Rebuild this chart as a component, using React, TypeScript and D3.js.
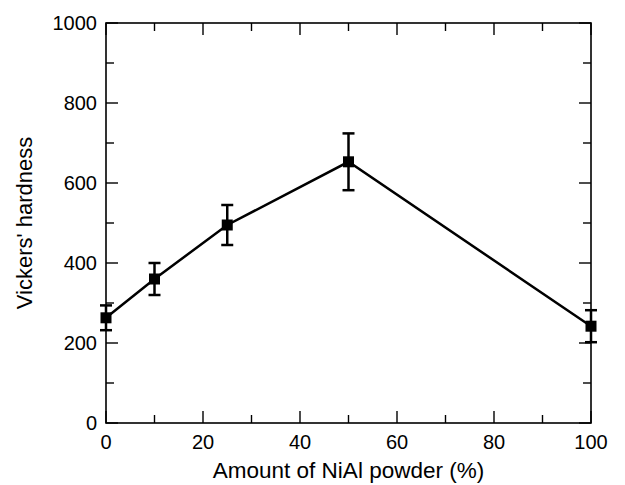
import React from 'react';
import * as d3 from 'd3';

// NiAl content (%) and measured Vickers' hardness with error
const amounts = [0, 10, 25, 50, 100];
const hardness = [263, 360, 495, 653, 242];
const errors = [31, 40, 50, 71, 40];

const xTicks = [0, 20, 40, 60, 80, 100];
const yTicks = [0, 200, 400, 600, 800, 1000];

const W = 625;
const H = 485;
const margin = { top: 23, right: 34, bottom: 62, left: 106 };
const font = '"Liberation Sans", Arial, sans-serif';

function App() {
  const x = d3.scaleLinear().domain([0, 100]).range([margin.left, W - margin.right]);
  const y = d3.scaleLinear().domain([0, 1000]).range([H - margin.bottom, margin.top]);

  const pts = amounts.map((a, i) => ({ a, v: hardness[i], e: errors[i] }));
  const line = d3.line<{ a: number; v: number }>().x(d => x(d.a)).y(d => y(d.v));

  const xMinor = d3.range(10, 100, 20);
  const yMinor = d3.range(100, 1000, 200);
  const [x0, x1] = x.range();
  const [y0, y1] = y.range();

  return (
    <svg width={W} height={H} style={{ position: 'absolute', left: 0, top: 0 }}>
      <rect x={x0} y={y1} width={x1 - x0} height={y0 - y1} fill="none" stroke="#000" strokeWidth={1.6} />

      {/* ticks, inward on all four sides */}
      {xTicks.map(t => (
        <g key={'xt' + t}>
          <line x1={x(t)} x2={x(t)} y1={y0} y2={y0 - 12} stroke="#000" strokeWidth={1.4} />
          <line x1={x(t)} x2={x(t)} y1={y1} y2={y1 + 12} stroke="#000" strokeWidth={1.4} />
          <text x={x(t)} y={449} textAnchor="middle" fontFamily={font} fontSize={20}>{t}</text>
        </g>
      ))}
      {xMinor.map(t => (
        <g key={'xm' + t}>
          <line x1={x(t)} x2={x(t)} y1={y0} y2={y0 - 8} stroke="#000" strokeWidth={1.4} />
          <line x1={x(t)} x2={x(t)} y1={y1} y2={y1 + 8} stroke="#000" strokeWidth={1.4} />
        </g>
      ))}
      {yTicks.map(t => (
        <g key={'yt' + t}>
          <line x1={x0} x2={x0 + 12} y1={y(t)} y2={y(t)} stroke="#000" strokeWidth={1.4} />
          <line x1={x1} x2={x1 - 12} y1={y(t)} y2={y(t)} stroke="#000" strokeWidth={1.4} />
          <text x={97} y={y(t)} dy="0.36em" textAnchor="end" fontFamily={font} fontSize={20}>{t}</text>
        </g>
      ))}
      {yMinor.map(t => (
        <g key={'ym' + t}>
          <line x1={x0} x2={x0 + 8} y1={y(t)} y2={y(t)} stroke="#000" strokeWidth={1.4} />
          <line x1={x1} x2={x1 - 8} y1={y(t)} y2={y(t)} stroke="#000" strokeWidth={1.4} />
        </g>
      ))}

      <path d={line(pts) || ''} fill="none" stroke="#000" strokeWidth={2.5} />

      {pts.map(p => (
        <g key={'p' + p.a}>
          <line x1={x(p.a)} x2={x(p.a)} y1={y(p.v - p.e)} y2={y(p.v + p.e)} stroke="#000" strokeWidth={2.5} />
          <line x1={x(p.a) - 6} x2={x(p.a) + 6} y1={y(p.v + p.e)} y2={y(p.v + p.e)} stroke="#000" strokeWidth={2.5} />
          <line x1={x(p.a) - 6} x2={x(p.a) + 6} y1={y(p.v - p.e)} y2={y(p.v - p.e)} stroke="#000" strokeWidth={2.5} />
          <rect x={x(p.a) - 5.5} y={y(p.v) - 5.5} width={11} height={11} fill="#000" />
        </g>
      ))}

      <text x={(x0 + x1) / 2} y={478} textAnchor="middle" fontFamily={font} fontSize={22.5}>
        Amount of NiAl powder (%)
      </text>
      <text
        transform={`translate(32, ${(y0 + y1) / 2}) rotate(-90)`}
        textAnchor="middle"
        fontFamily={font}
        fontSize={22}
      >
        Vickers' hardness
      </text>
    </svg>
  );
}

export default App;
